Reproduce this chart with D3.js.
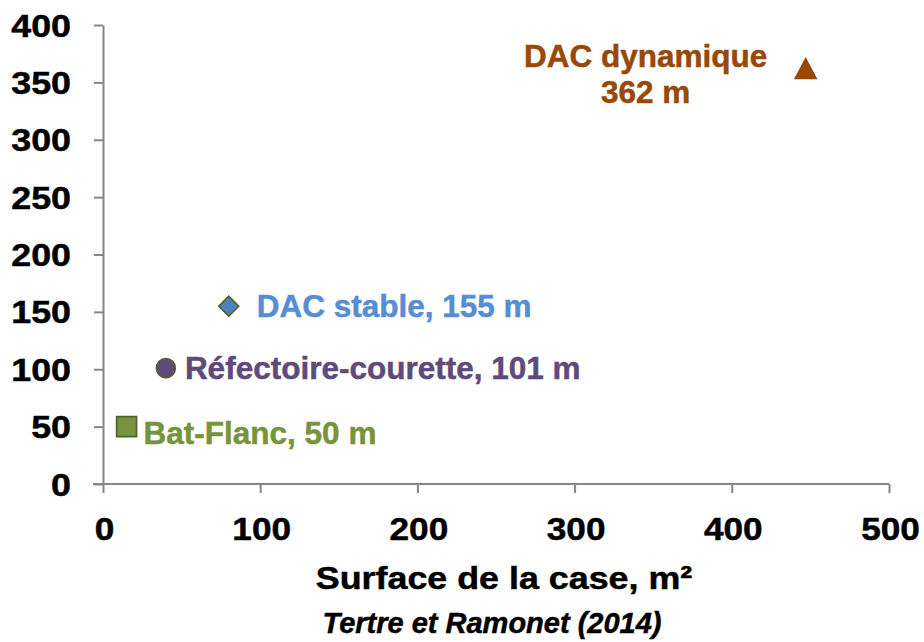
<!DOCTYPE html>
<html>
<head>
<meta charset="utf-8">
<script src="https://cdnjs.cloudflare.com/ajax/libs/d3/7.8.5/d3.min.js"></script>
<style>
  html, body { margin: 0; padding: 0; background: #ffffff; }
  svg { display: block; }
  text { font-family: "Liberation Sans", Arial, sans-serif; font-weight: bold; stroke-width: 0.5px; }
</style>
</head>
<body>
<svg id="chart" width="924" height="642"></svg>
<script>
// ---- data ----
const categories = ["Bat-Flanc", "Réfectoire-courette", "DAC stable", "DAC dynamique"];
const surface = [15, 40, 80, 447];          // m²
const distance = [50, 101, 155, 362];       // m
const pointLabels = [["Bat-Flanc, 50 m"], ["Réfectoire-courette, 101 m"], ["DAC stable, 155 m"], ["DAC dynamique", "362 m"]];
const xTicks = [0, 100, 200, 300, 400, 500];
const yTicks = [0, 50, 100, 150, 200, 250, 300, 350, 400];
const xTitle = "Surface de la case, m²";
const sourceText = "Tertre et Ramonet (2014)";

// ---- styles ----
const boxTriangle = {
  draw(ctx, size) {
    const w = Math.sqrt(size * 2.2), h = w * 0.95;
    ctx.moveTo(0, -h / 2);
    ctx.lineTo(w / 2, h / 2);
    ctx.lineTo(-w / 2, h / 2);
    ctx.closePath();
  }
};
const markerStyle = [
  { type: d3.symbolSquare, size: 400, rotate: 0, fill: "#77933C", stroke: "#4F6228", text: "#77933C" },
  { type: d3.symbolCircle, size: 285, rotate: 0, fill: "#604A7B", stroke: "#4F6228", text: "#604A7B" },
  { type: d3.symbolSquare, size: 200, rotate: 45, fill: "#4F81BD", stroke: "#4F6228", text: "#558ED5" },
  { type: boxTriangle, size: 200, rotate: 0, fill: "#984807", stroke: "#984807", text: "#984807" }
];
const labelLayout = [
  { dx: 17, dy: 17, anchor: "start" },
  { dx: 19, dy: 11, anchor: "start" },
  { dx: 28, dy: 11, anchor: "start" },
  { dx: -160, dy: -2, anchor: "middle" }
];

const svg = d3.select("#chart");
const x = d3.scaleLinear().domain([0, 500]).range([103, 889]);
const y = d3.scaleLinear().domain([0, 400]).range([484, 25]);
const axisColor = "#868686";

// x axis
const gx = svg.append("g").attr("transform", "translate(0," + y(0) + ")")
  .call(d3.axisBottom(x).tickValues(xTicks).tickSize(9).tickSizeOuter(0).tickPadding(0));
// y axis
const gy = svg.append("g").attr("transform", "translate(" + x(0) + ",0)")
  .call(d3.axisLeft(y).tickValues(yTicks).tickSize(9).tickSizeOuter(0).tickPadding(0));

gx.select(".domain").attr("d", "M93,0H" + x(500));
[gx, gy].forEach(g => {
  g.select(".domain").attr("stroke", axisColor).attr("stroke-width", 2);
  g.selectAll(".tick line").attr("stroke", axisColor).attr("stroke-width", 2);
});

gx.selectAll(".tick text")
  .attr("y", null).attr("dy", null).attr("x", null)
  .attr("fill", "#000").attr("stroke", "#000")
  .attr("font-size", 32)
  .attr("text-anchor", "middle")
  .attr("transform", "translate(1,56) scale(1.1,1)");

gy.selectAll(".tick text")
  .attr("x", null).attr("dy", null)
  .attr("fill", "#000").attr("stroke", "#000")
  .attr("font-size", 32)
  .attr("text-anchor", "end")
  .attr("transform", "translate(-32,11) scale(1.12,1)");

// axis title
svg.append("text")
  .attr("transform", "translate(504,589) scale(1.12,1)")
  .attr("text-anchor", "middle")
  .attr("font-size", 32)
  .attr("fill", "#000").attr("stroke", "#000")
  .text(xTitle);

// source
svg.append("text")
  .attr("x", 492).attr("y", 633)
  .attr("text-anchor", "middle")
  .attr("font-size", 29)
  .attr("font-style", "italic")
  .attr("fill", "#000").attr("stroke", "#000")
  .text(sourceText);

// points
const pts = categories.map((c, i) => ({ c, sx: surface[i], dy: distance[i], i }));
svg.append("g").selectAll("path").data(pts).join("path")
  .attr("d", d => d3.symbol().type(markerStyle[d.i].type).size(markerStyle[d.i].size)())
  .attr("transform", d => "translate(" + x(d.sx) + "," + y(d.dy) + ") rotate(" + markerStyle[d.i].rotate + ")")
  .attr("fill", d => markerStyle[d.i].fill)
  .attr("stroke", d => markerStyle[d.i].stroke)
  .attr("stroke-width", 1.6);

// labels
const lab = svg.append("g").selectAll("text").data(pts).join("text")
  .attr("x", d => x(d.sx) + labelLayout[d.i].dx)
  .attr("y", d => y(d.dy) + labelLayout[d.i].dy)
  .attr("text-anchor", d => labelLayout[d.i].anchor)
  .attr("font-size", 31.5)
  .attr("fill", d => markerStyle[d.i].text)
  .attr("stroke", d => markerStyle[d.i].text);
lab.each(function(d) {
  const t = d3.select(this);
  const lines = pointLabels[d.i];
  if (lines.length === 1) {
    t.text(lines[0]);
  } else {
    lines.forEach((ln, k) => {
      t.append("tspan")
        .attr("x", x(d.sx) + labelLayout[d.i].dx)
        .attr("dy", k === 0 ? 0 : 36)
        .text(ln);
    });
  }
});
</script>
</body>
</html>
